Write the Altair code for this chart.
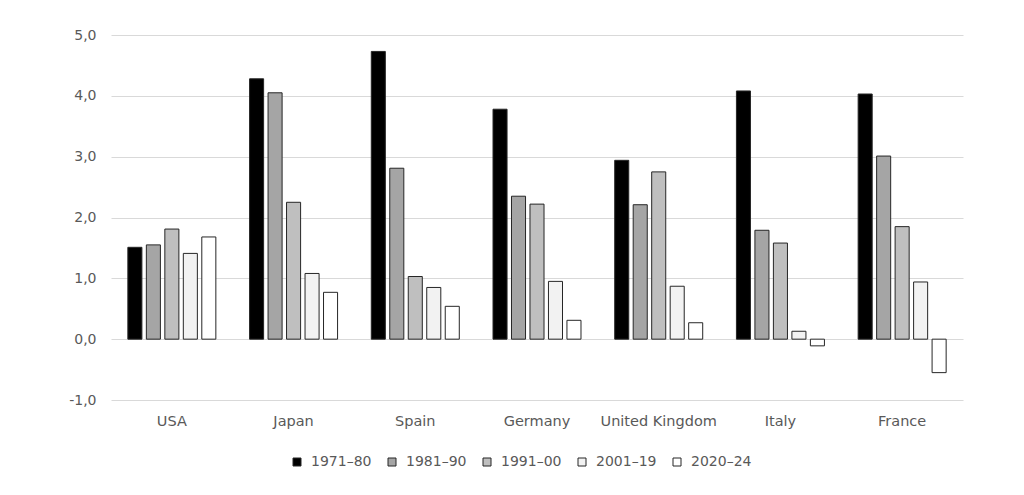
import altair as alt
import pandas as pd

countries = ["USA", "Japan", "Spain", "Germany", "United Kingdom", "Italy", "France"]
periods = ["1971–80", "1981–90", "1991–00", "2001–19", "2020–24"]
colors = ["#000000", "#a5a5a5", "#bfbfbf", "#f2f2f2", "#ffffff"]

v_1971_80 = [1.51, 4.28, 4.73, 3.78, 2.94, 4.08, 4.03]
v_1981_90 = [1.55, 4.05, 2.81, 2.35, 2.21, 1.79, 3.01]
v_1991_00 = [1.81, 2.25, 1.03, 2.22, 2.75, 1.58, 1.85]
v_2001_19 = [1.41, 1.08, 0.85, 0.95, 0.87, 0.13, 0.94]
v_2020_24 = [1.68, 0.77, 0.54, 0.31, 0.27, -0.11, -0.55]

series = [v_1971_80, v_1981_90, v_1991_00, v_2001_19, v_2020_24]
rows = []
for p, vals in zip(periods, series):
    for c, v in zip(countries, vals):
        rows.append({"country": c, "period": p, "value": v})
df = pd.DataFrame(rows)

font = "DejaVu Sans"
fs = 14
tc = "#595959"

chart = alt.Chart(df).mark_bar(stroke="#262626", strokeWidth=1).encode(
    x=alt.X("country:N", sort=countries, title=None,
            scale=alt.Scale(paddingInner=0.277, paddingOuter=0.1385),
            axis=alt.Axis(labelAngle=0, domain=False, ticks=False, labelPadding=14,
                          labelFontSize=14.5, labelColor=tc, labelFont=font)),
    xOffset=alt.XOffset("period:N", sort=periods,
                        scale=alt.Scale(paddingInner=0.24, paddingOuter=0)),
    y=alt.Y("value:Q", title=None,
            scale=alt.Scale(domain=[-1, 5], nice=False),
            axis=alt.Axis(values=[-1, 0, 1, 2, 3, 4, 5], domain=False, ticks=False,
                          labelPadding=15, labelFontSize=fs, labelColor=tc,
                          labelFont=font, gridColor="#d9d9d9", gridWidth=1,
                          labelExpr="replace(replace(format(datum.value, '.1f'), '.', ','), '\u2212', '-')")),
    color=alt.Color("period:N", sort=periods,
                    scale=alt.Scale(domain=periods, range=colors),
                    legend=alt.Legend(title=None, orient="none", direction="horizontal",
                                      legendX=179, legendY=420,
                                      symbolType="square", symbolSize=64,
                                      symbolStrokeColor="#262626", symbolStrokeWidth=1,
                                      labelOffset=7,
                                      labelFontSize=fs, labelColor=tc, labelFont=font,
                                      columnPadding=13)),
).properties(
    width=852, height=365,
    padding={"left": 60, "top": 20, "right": 5, "bottom": 5}
).configure_view(stroke=None)

chart.save("out.html", embed_options={"renderer": "svg", "actions": False})
